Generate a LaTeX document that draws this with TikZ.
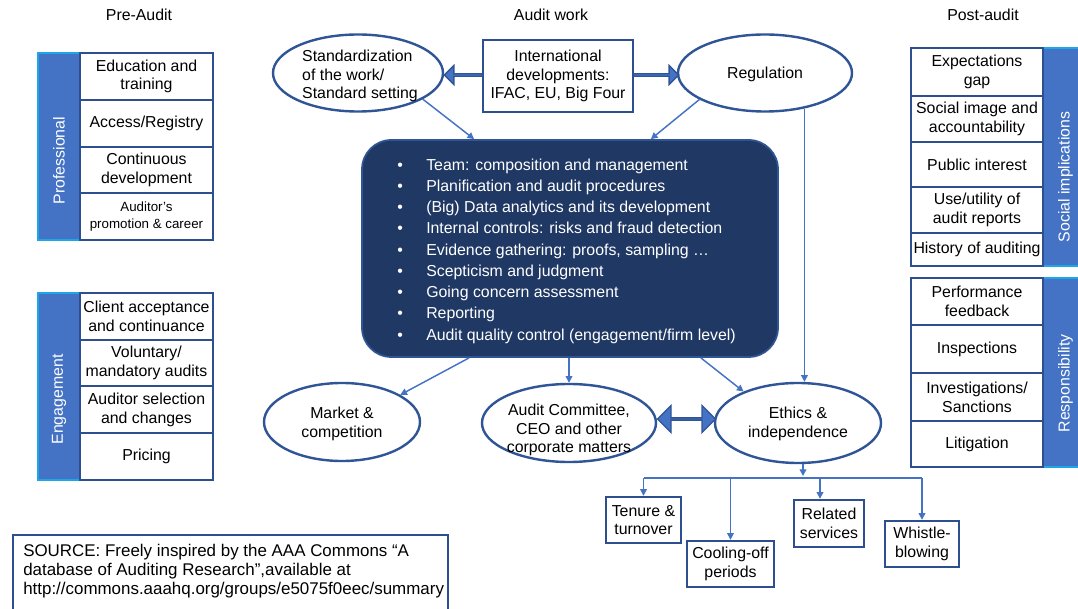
\documentclass[tikz,border=0pt]{standalone}
\usepackage{fontspec}
\setmainfont{Liberation Sans}
\usetikzlibrary{arrows.meta,shapes.geometric,shapes.arrows,calc}
\definecolor{navy}{HTML}{203864}
\definecolor{bdr}{HTML}{2E4F8F}
\definecolor{ebdr}{HTML}{2F5597}
\definecolor{mid}{HTML}{4472C4}
\definecolor{cyanb}{HTML}{1EA7E6}
\newcommand\fs{\fontsize{11.9}{14.1}\selectfont}
\newcommand\fsm{\fontsize{10}{12.5}\selectfont}
\newcommand\mkbox[7]{\node[#1, minimum width={(#5-#3)*0.75pt}, minimum height={(#6-#4)*0.75pt}] (#2) at ({(#3+#5)/2},{(#4+#6)/2}) {#7};}
\tikzset{
  cell/.style={draw=bdr, line width=1.8pt, fill=white, align=center, inner sep=0.5pt, font=\fs},
  bar/.style={draw=cyanb, fill=mid, line width=1.5pt, inner sep=0pt},
  barlabel/.style={rotate=90, text=white, font=\fs},
  ell/.style={ellipse, draw=ebdr, line width=1.8pt, fill=white, inner sep=0pt},
  txt/.style={font=\fs, align=center, inner sep=0pt},
  arr/.style={draw=mid, line width=1.1pt, -{Triangle[length=5pt,width=5pt]}},
  ln/.style={draw=mid, line width=1.1pt},
  fat/.style={single arrow, draw=ebdr, fill=mid, line width=1pt, inner sep=0pt,
    minimum width=14.25pt, single arrow head extend=3.4pt, single arrow head indent=0pt},
  fat2/.style={double arrow, draw=ebdr, fill=mid, line width=1pt, inner sep=0pt,
    minimum width=20.25pt, double arrow head extend=5.6pt, double arrow head indent=0pt}
}
\begin{document}
\begin{tikzpicture}[x=0.75pt,y=-0.75pt]
\useasboundingbox (0,0) rectangle (1078,609);
\clip (0,0) rectangle (1078,609);
% headers
\node[txt] (h1) at (139,15) {Pre-Audit};
\node[txt] (h2) at (551,15) {Audit work};
\node[txt] (h3) at (983,15) {Post-audit};
% Professional
\mkbox{bar}{pbar}{38}{53}{80}{240}{}
\node[barlabel] (pbarT) at ($(pbar)+(0,14)$) {Professional};
\mkbox{cell}{p1}{80}{53}{213}{100}{Education and\\training}
\mkbox{cell}{p2}{80}{100}{213}{147}{Access/Registry}
\mkbox{cell}{p3}{80}{147}{213}{193}{Continuous\\development}
\mkbox{cell,font=\fsm}{p4}{80}{193}{213}{240}{Auditor's\\promotion \& career}
% Engagement
\mkbox{bar}{ebar}{38}{293}{80}{480}{}
\node[barlabel] (ebarT) at ($(ebar)+(0,13)$) {Engagement};
\mkbox{cell}{e1}{80}{293}{213}{340}{Client acceptance\\and continuance}
\mkbox{cell}{e2}{80}{340}{213}{386}{Voluntary/\\mandatory audits}
\mkbox{cell}{e3}{80}{386}{213}{433}{Auditor selection\\and changes}
\mkbox{cell}{e4}{80}{433}{213}{480}{Pricing}
% Social implications
\mkbox{bar}{sbar}{1043}{48}{1080}{266}{}
\node[barlabel] (sbarT) at ($(sbar)+(4,20)$) {Social implications};
\mkbox{cell}{s1}{911}{48}{1043}{96}{Expectations\\gap}
\mkbox{cell}{s2}{911}{96}{1043}{142}{Social image and\\accountability}
\mkbox{cell}{s3}{911}{142}{1043}{187}{Public interest}
\mkbox{cell}{s4}{911}{187}{1043}{233}{Use/utility of\\audit reports}
\mkbox{cell}{s5}{911}{233}{1043}{266}{History of auditing}
% Responsibility
\mkbox{bar}{rbar}{1043}{278}{1080}{467}{}
\node[barlabel] (rbarT) at ($(rbar)+(4,11)$) {Responsibility};
\mkbox{cell}{r1}{911}{278}{1043}{325}{Performance\\feedback}
\mkbox{cell}{r2}{911}{325}{1043}{373}{Inspections}
\mkbox{cell}{r3}{911}{373}{1043}{421}{Investigations/\\Sanctions}
\mkbox{cell}{r4}{911}{421}{1043}{467}{Litigation}
% top row
\node[ell, minimum width={170*0.75pt}, minimum height={77*0.75pt}] (std) at (358,73) {};
\node[txt, align=left] (stdT) at (360,76) {Standardization\\of the work/\\Standard setting};
\mkbox{cell}{intl}{483}{40}{633}{112}{International\\developments:\\IFAC, EU, Big Four}
\node[ell, minimum width={174*0.75pt}, minimum height={77*0.75pt}] (reg) at (765,73) {};
\node[txt] (regT) at (765,74) {Regulation};
\node[fat, shape border rotate=180, minimum height={38*0.75pt}] (fl) at (464,75) {};
\node[fat, minimum height={45*0.75pt}] (fr) at (655.5,75) {};
% central box
\mkbox{draw=ebdr, fill=navy, line width=1.3pt, rounded corners=22pt}{ctr}{362}{140}{778}{357}{}
\node[anchor=west, inner sep=0pt, text=white, align=left, font=\fontsize{11.9}{15.94}\selectfont] (list) at (397,251) {%
\makebox[21.75pt][l]{\textbullet}Team: composition and management\\
\makebox[21.75pt][l]{\textbullet}Planification and audit procedures\\
\makebox[21.75pt][l]{\textbullet}(Big) Data analytics and its development\\
\makebox[21.75pt][l]{\textbullet}Internal controls: risks and fraud detection\\
\makebox[21.75pt][l]{\textbullet}Evidence gathering: proofs, sampling …\\
\makebox[21.75pt][l]{\textbullet}Scepticism and judgment\\
\makebox[21.75pt][l]{\textbullet}Going concern assessment\\
\makebox[21.75pt][l]{\textbullet}Reporting\\
\makebox[21.75pt][l]{\textbullet}Audit quality control (engagement/firm level)};
% bottom ellipses
\node[ell, minimum width={156*0.75pt}, minimum height={78*0.75pt}] (mkt) at (342,422) {};
\node[txt] (mktT) at (342,424) {Market \&\\competition};
\node[ell, minimum width={174*0.75pt}, minimum height={78*0.75pt}] (ac) at (569,423) {};
\node[txt] (acT) at (569,430) {Audit Committee,\\CEO and other\\corporate matters};
\node[ell, minimum width={166*0.75pt}, minimum height={80*0.75pt}] (eth) at (798,423) {};
\node[txt] (ethT) at (798,424) {Ethics \&\\independence};
\node[fat2, minimum height={58*0.75pt}] (dbl) at (686.5,419) {};
% tree boxes
\mkbox{cell}{ten}{606}{497}{681}{543}{Tenure \&\\turnover}
\mkbox{cell}{col}{687}{541}{774}{587}{Cooling-off\\periods}
\mkbox{cell}{rel}{794}{500}{864}{547}{Related\\services}
\mkbox{cell}{whi}{885}{521}{959}{567}{Whistle-\\blowing}
% source box
\node[draw=bdr, line width=1.5pt, anchor=north west, minimum width={435*0.75pt}, minimum height={85*0.75pt}] (srcbox) at (12,534) {};
\node[anchor=north west, inner sep=0pt, align=left, font=\fontsize{12.7}{14.1}\selectfont] (src) at (23,544) {SOURCE: Freely inspired by the AAA Commons “A\\database of Auditing Research”,available at\\http://commons.aaahq.org/groups/e5075f0eec/summary};
% connectors
\draw[arr] (std.-22) -- ($(ctr.north west)+(113,0)$);
\draw[arr] (reg.-158) -- ($(ctr.north east)+(-128,0)$);
\draw[arr] (reg.-42) -- (reg.-42 |- eth.north);
\draw[arr] ($(ctr.south west)+(108,0)$) -- (mkt.25);
\draw[arr] (ctr.south -| ac.north) -- (ac.north);
\draw[arr] ($(ctr.south east)+(-78,0)$) -- (eth.150);
\coordinate (tree) at (803,478);
\draw[arr] (eth.south -| tree) -- ([yshift=1.5pt]tree);
\draw[ln] (tree -| ten.north) -- (tree -| whi.north);
\draw[arr] (tree -| ten.north) -- (ten.north);
\draw[arr] (tree -| col.north) -- (col.north);
\draw[arr] ($(tree -| rel.north)+(-9,0)$) -- ($(rel.north)+(-9,0)$);
\draw[arr] (tree -| whi.north) -- (whi.north);
\end{tikzpicture}
\end{document}
